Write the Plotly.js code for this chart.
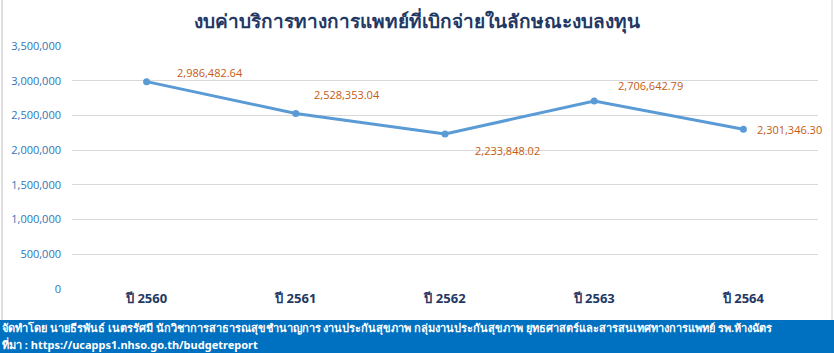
<!DOCTYPE html>
<html>
<head>
<meta charset="utf-8">
<script src="https://cdn.plot.ly/plotly-3.0.1.min.js"></script>
<style>
html,body{margin:0;padding:0;background:#fff;}
#chart{width:834px;height:353px;}
</style>
</head>
<body>
<div id="chart"></div>
<script>
const categories = ["ปี 2560", "ปี 2561", "ปี 2562", "ปี 2563", "ปี 2564"];
const values = [2986482.64, 2528353.04, 2233848.02, 2706642.79, 2301346.30];
const yTickVals = [0, 500000, 1000000, 1500000, 2000000, 2500000, 3000000, 3500000];
const yTickText = ["0", "500,000", "1,000,000", "1,500,000", "2,000,000", "2,500,000", "3,000,000", "3,500,000"];
const titleText = "งบค่าบริการทางการแพทย์ที่เบิกจ่ายในลักษณะงบลงทุน";
const footerLine1 = "จัดทำโดย นายธีรพันธ์ เนตรรัศมี นักวิชาการสาธารณสุขชำนาญการ งานประกันสุขภาพ กลุ่มงานประกันสุขภาพ ยุทธศาสตร์และสารสนเทศทางการแพทย์ รพ.ห้างฉัตร";
const footerLine2 = "ที่มา : https://ucapps1.nhso.go.th/budgetreport";
// label offsets (pixels) relative to each point
const labelDx = [28, 16, 28, 22, 12];
const labelDy = [-9, -19, 17, -16, 0];

function fmt(v){
  return v.toLocaleString('en-US',{minimumFractionDigits:2,maximumFractionDigits:2});
}

const labelAnn = categories.map((c,i)=>({
  x: c, y: values[i], xref:'x', yref:'y',
  text: fmt(values[i]), showarrow:true, arrowcolor:'rgba(0,0,0,0)',
  ax: labelDx[i], ay: labelDy[i], xanchor:'left', yanchor:'middle',
  font:{family:'Open Sans, sans-serif', size:11, color:'#C55A11'}
}));

const footerAnn = [
  {xref:'paper', yref:'paper', x:-0.0965, y:-0.16, xanchor:'left', yanchor:'middle', showarrow:false,
   text:'<b>'+footerLine1+'</b>', font:{family:'Noto Sans, sans-serif', size:11, color:'#ffffff'}},
  {xref:'paper', yref:'paper', x:-0.0965, y:-0.228, xanchor:'left', yanchor:'middle', showarrow:false,
   text:'<b>'+footerLine2+'</b>', font:{family:'Noto Sans, sans-serif', size:11, color:'#ffffff'}}
];

const trace = {
  x: categories, y: values, type:'scatter', mode:'lines+markers',
  line:{color:'#5B9BD5', width:3},
  marker:{color:'#5B9BD5', size:7},
  hoverinfo:'skip'
};

const layout = {
  width:834, height:353,
  margin:{l:72, r:16, t:46, b:64},
  paper_bgcolor:'#ffffff', plot_bgcolor:'#ffffff',
  showlegend:false,
  title:{text:'<b>'+titleText+'</b>', x:0.5, xanchor:'center', y:0.94, yanchor:'middle',
    font:{family:'Noto Sans, sans-serif', size:19, color:'#1F3864'}},
  xaxis:{type:'category', range:[-0.5,4.5], showgrid:false, zeroline:false, showline:false,
    ticks:'', tickfont:{family:'Noto Sans, sans-serif', size:13, color:'#1F3864', weight:'bold'}},
  yaxis:{range:[0,3500000], tickvals:yTickVals, ticktext:yTickText, showgrid:true,
    gridcolor:'#D9D9D9', gridwidth:1, zeroline:false, showline:false, ticks:'', ticklabelstandoff:10,
    tickfont:{family:'Open Sans, sans-serif', size:11, color:'#2E75B6'}},
  shapes:[
    {type:'rect', xref:'paper', yref:'paper', x0:-0.1, x1:1.03, y0:-0.1276, y1:-0.275,
     fillcolor:'#0070C0', line:{width:0}, layer:'below'},
    {type:'line', xref:'paper', yref:'paper', x0:-0.0938, x1:-0.0938, y0:1.2, y1:-0.1276,
     line:{color:'#BFBFBF', width:1}},
    {type:'line', xref:'paper', yref:'paper', x0:1.0188, x1:1.0188, y0:1.2, y1:-0.1276,
     line:{color:'#D0D0D0', width:1}}
  ],
  annotations: labelAnn.concat(footerAnn)
};

Plotly.newPlot('chart',[trace],layout,{displayModeBar:false, staticPlot:true});
</script>
</body>
</html>
